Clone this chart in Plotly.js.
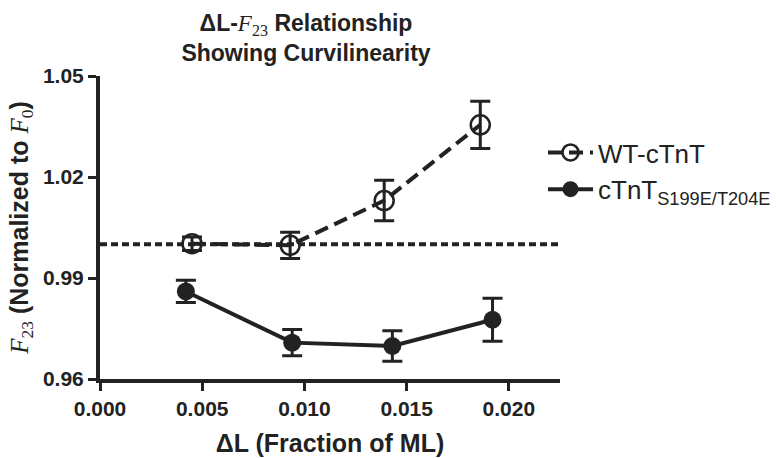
<!DOCTYPE html>
<html>
<head>
<meta charset="utf-8">
<script src="https://cdn.plot.ly/plotly-3.0.1.min.js"></script>
<style>html,body{margin:0;padding:0;background:#fff;}#chart{width:776px;height:458px;}</style>
</head>
<body>
<div id="chart"></div>
<script>
// Data
const wtX   = [0.0045, 0.0093, 0.0139, 0.0186];
const wtY   = [1.0002, 0.9997, 1.0130, 1.0355];
const wtErr = [0.0020, 0.0039, 0.0060, 0.0070];

const mutX   = [0.0042, 0.0094, 0.0143, 0.0192];
const mutY   = [0.9860, 0.9708, 0.9698, 0.9776];
const mutErr = [0.0033, 0.0039, 0.0045, 0.0064];

const refLineY = 1.0;
const xTickVals = [0, 0.005, 0.010, 0.015, 0.020];
const xTickText = ['0.000', '0.005', '0.010', '0.015', '0.020'];
const yTickVals = [0.96, 0.99, 1.02, 1.05];
const yTickText = ['0.96', '0.99', '1.02', '1.05'];

const ink = '#222222';
const sans = 'Liberation Sans, Arial, sans-serif';
const serifF = "<span style='font-family:Liberation Serif;font-weight:normal'><i>F</i><sub>23</sub></span>";
const serifF0 = "<span style='font-family:Liberation Serif;font-weight:normal'><i>F</i><sub>0</sub></span>";

const traces = [
  {
    x: wtX, y: wtY, name: 'WT-cTnT', type: 'scatter', mode: 'lines+markers',
    line: {color: ink, width: 4, dash: '14px,7px'},
    marker: {symbol: 'circle-open', size: 19, color: ink, line: {width: 2.5, color: ink}},
    error_y: {type: 'data', array: wtErr, visible: true, color: ink, thickness: 3, width: 10}
  },
  {
    x: mutX, y: mutY, name: 'cTnT<sub>S199E/T204E</sub>', type: 'scatter', mode: 'lines+markers',
    line: {color: ink, width: 4},
    marker: {symbol: 'circle', size: 18, color: ink},
    error_y: {type: 'data', array: mutErr, visible: true, color: ink, thickness: 3, width: 10}
  }
];

const layout = {
  width: 776, height: 458,
  margin: {l: 100, r: 216, t: 76, b: 79, autoexpand: false},
  paper_bgcolor: '#fff', plot_bgcolor: '#fff',
  font: {family: sans, color: ink},
  title: {
    text: '<b>ΔL-' + serifF + ' Relationship<br>Showing Curvilinearity</b>',
    font: {size: 23, color: ink, family: sans},
    x: 306 / 776, xanchor: 'center', xref: 'container',
    y: 1 - 31 / 458, yanchor: 'middle', yref: 'container'
  },
  xaxis: {
    range: [0, 0.0225], tickvals: xTickVals, ticktext: xTickText,
    showgrid: false, zeroline: false, showline: true, linecolor: ink, linewidth: 4,
    ticks: 'outside', ticklen: 8, tickwidth: 3, tickcolor: ink,
    tickfont: {size: 21, color: ink, family: sans, weight: 'bold'},
    title: {text: '<b>ΔL (Fraction of ML)</b>', font: {size: 25, color: ink, family: sans}, standoff: 16}
  },
  yaxis: {
    range: [0.96, 1.05], tickvals: yTickVals, ticktext: yTickText,
    showgrid: false, zeroline: false, showline: true, linecolor: ink, linewidth: 4,
    ticks: 'outside', ticklen: 8, tickwidth: 3, tickcolor: ink,
    tickfont: {size: 21, color: ink, family: sans, weight: 'bold'},
    title: {text: '<b>' + serifF + ' (Normalized to ' + serifF0 + ')</b>', font: {size: 25, color: ink, family: sans}, standoff: 8}
  },
  shapes: [{
    type: 'line', xref: 'x', yref: 'y', x0: 0, x1: 0.0225, y0: refLineY, y1: refLineY,
    line: {color: ink, width: 4, dash: '7px,4px'}, layer: 'below'
  }],
  legend: {
    xref: 'container', yref: 'container',
    x: 543 / 776, y: 1 - 129 / 458, xanchor: 'left', yanchor: 'top',
    font: {size: 26, color: ink, family: sans},
    itemwidth: 45,
    bgcolor: 'rgba(0,0,0,0)', tracegroupgap: 0
  },
  showlegend: true
};

Plotly.newPlot('chart', traces, layout, {displayModeBar: false, staticPlot: true});
</script>
</body>
</html>
